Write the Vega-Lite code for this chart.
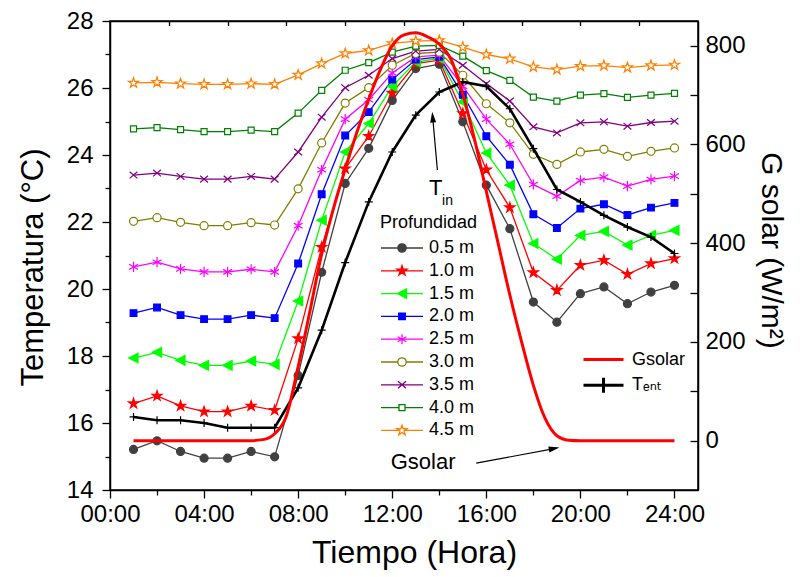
{
  "$schema": "https://vega.github.io/schema/vega-lite/v6.json",
  "width": 588,
  "height": 469,
  "autosize": {"type": "none"},
  "padding": {"left": 110, "top": 21, "right": 109, "bottom": 87},
  "background": "white",
  "config": {
    "font": "Liberation Sans, Arial, DejaVu Sans",
    "view": {"stroke": "black", "strokeWidth": 1.5},
    "axis": {"grid": false, "domainColor": "black", "domainWidth": 1.5, "tickColor": "black", "tickWidth": 1.3, "labelColor": "black", "titleColor": "black", "labelFontSize": 24, "titleFontSize": 32, "titleFontWeight": "normal", "labelFlush": false, "labelOverlap": false},
    "legend": {"titleFontWeight": "normal", "labelColor": "black", "titleColor": "black"}
  },
  "datasets": {
    "depth": [
      {"prof":"0.5 m","hora":1,"temp":15.21},{"prof":"0.5 m","hora":2,"temp":15.47},{"prof":"0.5 m","hora":3,"temp":15.15},{"prof":"0.5 m","hora":4,"temp":14.95},{"prof":"0.5 m","hora":5,"temp":14.95},{"prof":"0.5 m","hora":6,"temp":15.15},{"prof":"0.5 m","hora":7,"temp":14.99},{"prof":"0.5 m","hora":8,"temp":17.42},{"prof":"0.5 m","hora":9,"temp":20.5},{"prof":"0.5 m","hora":10,"temp":23.15},{"prof":"0.5 m","hora":11,"temp":24.2},{"prof":"0.5 m","hora":12,"temp":25.63},{"prof":"0.5 m","hora":13,"temp":26.58},{"prof":"0.5 m","hora":14,"temp":26.71},{"prof":"0.5 m","hora":15,"temp":24.99},{"prof":"0.5 m","hora":16,"temp":23.10},{"prof":"0.5 m","hora":17,"temp":21.80},{"prof":"0.5 m","hora":18,"temp":19.61},{"prof":"0.5 m","hora":19,"temp":19.01},{"prof":"0.5 m","hora":20,"temp":19.86},{"prof":"0.5 m","hora":21,"temp":20.06},{"prof":"0.5 m","hora":22,"temp":19.56},{"prof":"0.5 m","hora":23,"temp":19.91},{"prof":"0.5 m","hora":24,"temp":20.11},
      {"prof":"1.0 m","hora":1,"temp":16.58},{"prof":"1.0 m","hora":2,"temp":16.81},{"prof":"1.0 m","hora":3,"temp":16.51},{"prof":"1.0 m","hora":4,"temp":16.34},{"prof":"1.0 m","hora":5,"temp":16.34},{"prof":"1.0 m","hora":6,"temp":16.51},{"prof":"1.0 m","hora":7,"temp":16.38},{"prof":"1.0 m","hora":8,"temp":18.52},{"prof":"1.0 m","hora":9,"temp":21.25},{"prof":"1.0 m","hora":10,"temp":23.59},{"prof":"1.0 m","hora":11,"temp":24.56},{"prof":"1.0 m","hora":12,"temp":25.85},{"prof":"1.0 m","hora":13,"temp":26.73},{"prof":"1.0 m","hora":14,"temp":26.83},{"prof":"1.0 m","hora":15,"temp":25.24},{"prof":"1.0 m","hora":16,"temp":23.56},{"prof":"1.0 m","hora":17,"temp":22.43},{"prof":"1.0 m","hora":18,"temp":20.49},{"prof":"1.0 m","hora":19,"temp":19.96},{"prof":"1.0 m","hora":20,"temp":20.71},{"prof":"1.0 m","hora":21,"temp":20.86},{"prof":"1.0 m","hora":22,"temp":20.44},{"prof":"1.0 m","hora":23,"temp":20.76},{"prof":"1.0 m","hora":24,"temp":20.91},
      {"prof":"1.5 m","hora":1,"temp":17.94},{"prof":"1.5 m","hora":2,"temp":18.11},{"prof":"1.5 m","hora":3,"temp":17.87},{"prof":"1.5 m","hora":4,"temp":17.72},{"prof":"1.5 m","hora":5,"temp":17.72},{"prof":"1.5 m","hora":6,"temp":17.85},{"prof":"1.5 m","hora":7,"temp":17.75},{"prof":"1.5 m","hora":8,"temp":19.64},{"prof":"1.5 m","hora":9,"temp":22.05},{"prof":"1.5 m","hora":10,"temp":24.09},{"prof":"1.5 m","hora":11,"temp":24.94},{"prof":"1.5 m","hora":12,"temp":26.05},{"prof":"1.5 m","hora":13,"temp":26.78},{"prof":"1.5 m","hora":14,"temp":26.88},{"prof":"1.5 m","hora":15,"temp":25.58},{"prof":"1.5 m","hora":16,"temp":24.06},{"prof":"1.5 m","hora":17,"temp":23.10},{"prof":"1.5 m","hora":18,"temp":21.36},{"prof":"1.5 m","hora":19,"temp":20.89},{"prof":"1.5 m","hora":20,"temp":21.60},{"prof":"1.5 m","hora":21,"temp":21.72},{"prof":"1.5 m","hora":22,"temp":21.31},{"prof":"1.5 m","hora":23,"temp":21.60},{"prof":"1.5 m","hora":24,"temp":21.75},
      {"prof":"2.0 m","hora":1,"temp":19.28},{"prof":"2.0 m","hora":2,"temp":19.45},{"prof":"2.0 m","hora":3,"temp":19.22},{"prof":"2.0 m","hora":4,"temp":19.10},{"prof":"2.0 m","hora":5,"temp":19.10},{"prof":"2.0 m","hora":6,"temp":19.22},{"prof":"2.0 m","hora":7,"temp":19.13},{"prof":"2.0 m","hora":8,"temp":20.76},{"prof":"2.0 m","hora":9,"temp":22.83},{"prof":"2.0 m","hora":10,"temp":24.58},{"prof":"2.0 m","hora":11,"temp":25.28},{"prof":"2.0 m","hora":12,"temp":26.25},{"prof":"2.0 m","hora":13,"temp":26.85},{"prof":"2.0 m","hora":14,"temp":26.93},{"prof":"2.0 m","hora":15,"temp":25.80},{"prof":"2.0 m","hora":16,"temp":24.56},{"prof":"2.0 m","hora":17,"temp":23.71},{"prof":"2.0 m","hora":18,"temp":22.23},{"prof":"2.0 m","hora":19,"temp":21.82},{"prof":"2.0 m","hora":20,"temp":22.40},{"prof":"2.0 m","hora":21,"temp":22.53},{"prof":"2.0 m","hora":22,"temp":22.21},{"prof":"2.0 m","hora":23,"temp":22.43},{"prof":"2.0 m","hora":24,"temp":22.57},
      {"prof":"2.5 m","hora":1,"temp":20.66},{"prof":"2.5 m","hora":2,"temp":20.80},{"prof":"2.5 m","hora":3,"temp":20.60},{"prof":"2.5 m","hora":4,"temp":20.51},{"prof":"2.5 m","hora":5,"temp":20.51},{"prof":"2.5 m","hora":6,"temp":20.59},{"prof":"2.5 m","hora":7,"temp":20.51},{"prof":"2.5 m","hora":8,"temp":21.89},{"prof":"2.5 m","hora":9,"temp":23.56},{"prof":"2.5 m","hora":10,"temp":25.07},{"prof":"2.5 m","hora":11,"temp":25.65},{"prof":"2.5 m","hora":12,"temp":26.45},{"prof":"2.5 m","hora":13,"temp":26.93},{"prof":"2.5 m","hora":14,"temp":26.98},{"prof":"2.5 m","hora":15,"temp":26.05},{"prof":"2.5 m","hora":16,"temp":25.07},{"prof":"2.5 m","hora":17,"temp":24.32},{"prof":"2.5 m","hora":18,"temp":23.12},{"prof":"2.5 m","hora":19,"temp":22.77},{"prof":"2.5 m","hora":20,"temp":23.24},{"prof":"2.5 m","hora":21,"temp":23.34},{"prof":"2.5 m","hora":22,"temp":23.07},{"prof":"2.5 m","hora":23,"temp":23.27},{"prof":"2.5 m","hora":24,"temp":23.37},
      {"prof":"3.0 m","hora":1,"temp":22.02},{"prof":"3.0 m","hora":2,"temp":22.13},{"prof":"3.0 m","hora":3,"temp":21.99},{"prof":"3.0 m","hora":4,"temp":21.89},{"prof":"3.0 m","hora":5,"temp":21.89},{"prof":"3.0 m","hora":6,"temp":21.98},{"prof":"3.0 m","hora":7,"temp":21.91},{"prof":"3.0 m","hora":8,"temp":22.99},{"prof":"3.0 m","hora":9,"temp":24.36},{"prof":"3.0 m","hora":10,"temp":25.55},{"prof":"3.0 m","hora":11,"temp":26.01},{"prof":"3.0 m","hora":12,"temp":26.68},{"prof":"3.0 m","hora":13,"temp":27.03},{"prof":"3.0 m","hora":14,"temp":27.07},{"prof":"3.0 m","hora":15,"temp":26.38},{"prof":"3.0 m","hora":16,"temp":25.53},{"prof":"3.0 m","hora":17,"temp":24.96},{"prof":"3.0 m","hora":18,"temp":24.02},{"prof":"3.0 m","hora":19,"temp":23.72},{"prof":"3.0 m","hora":20,"temp":24.09},{"prof":"3.0 m","hora":21,"temp":24.17},{"prof":"3.0 m","hora":22,"temp":23.96},{"prof":"3.0 m","hora":23,"temp":24.11},{"prof":"3.0 m","hora":24,"temp":24.21},
      {"prof":"3.5 m","hora":1,"temp":23.40},{"prof":"3.5 m","hora":2,"temp":23.46},{"prof":"3.5 m","hora":3,"temp":23.36},{"prof":"3.5 m","hora":4,"temp":23.28},{"prof":"3.5 m","hora":5,"temp":23.28},{"prof":"3.5 m","hora":6,"temp":23.36},{"prof":"3.5 m","hora":7,"temp":23.28},{"prof":"3.5 m","hora":8,"temp":24.09},{"prof":"3.5 m","hora":9,"temp":25.13},{"prof":"3.5 m","hora":10,"temp":26.01},{"prof":"3.5 m","hora":11,"temp":26.38},{"prof":"3.5 m","hora":12,"temp":26.88},{"prof":"3.5 m","hora":13,"temp":27.10},{"prof":"3.5 m","hora":14,"temp":27.15},{"prof":"3.5 m","hora":15,"temp":26.68},{"prof":"3.5 m","hora":16,"temp":26.13},{"prof":"3.5 m","hora":17,"temp":25.61},{"prof":"3.5 m","hora":18,"temp":24.84},{"prof":"3.5 m","hora":19,"temp":24.66},{"prof":"3.5 m","hora":20,"temp":24.96},{"prof":"3.5 m","hora":21,"temp":24.99},{"prof":"3.5 m","hora":22,"temp":24.86},{"prof":"3.5 m","hora":23,"temp":24.97},{"prof":"3.5 m","hora":24,"temp":25.01},
      {"prof":"4.0 m","hora":1,"temp":24.78},{"prof":"4.0 m","hora":2,"temp":24.82},{"prof":"4.0 m","hora":3,"temp":24.76},{"prof":"4.0 m","hora":4,"temp":24.70},{"prof":"4.0 m","hora":5,"temp":24.70},{"prof":"4.0 m","hora":6,"temp":24.74},{"prof":"4.0 m","hora":7,"temp":24.70},{"prof":"4.0 m","hora":8,"temp":25.25},{"prof":"4.0 m","hora":9,"temp":25.93},{"prof":"4.0 m","hora":10,"temp":26.53},{"prof":"4.0 m","hora":11,"temp":26.76},{"prof":"4.0 m","hora":12,"temp":27.07},{"prof":"4.0 m","hora":13,"temp":27.25},{"prof":"4.0 m","hora":14,"temp":27.27},{"prof":"4.0 m","hora":15,"temp":26.95},{"prof":"4.0 m","hora":16,"temp":26.52},{"prof":"4.0 m","hora":17,"temp":26.23},{"prof":"4.0 m","hora":18,"temp":25.73},{"prof":"4.0 m","hora":19,"temp":25.61},{"prof":"4.0 m","hora":20,"temp":25.79},{"prof":"4.0 m","hora":21,"temp":25.83},{"prof":"4.0 m","hora":22,"temp":25.72},{"prof":"4.0 m","hora":23,"temp":25.79},{"prof":"4.0 m","hora":24,"temp":25.84},
      {"prof":"4.5 m","hora":1,"temp":26.15},{"prof":"4.5 m","hora":2,"temp":26.17},{"prof":"4.5 m","hora":3,"temp":26.13},{"prof":"4.5 m","hora":4,"temp":26.11},{"prof":"4.5 m","hora":5,"temp":26.11},{"prof":"4.5 m","hora":6,"temp":26.13},{"prof":"4.5 m","hora":7,"temp":26.11},{"prof":"4.5 m","hora":8,"temp":26.39},{"prof":"4.5 m","hora":9,"temp":26.73},{"prof":"4.5 m","hora":10,"temp":27.03},{"prof":"4.5 m","hora":11,"temp":27.12},{"prof":"4.5 m","hora":12,"temp":27.33},{"prof":"4.5 m","hora":13,"temp":27.40},{"prof":"4.5 m","hora":14,"temp":27.42},{"prof":"4.5 m","hora":15,"temp":27.22},{"prof":"4.5 m","hora":16,"temp":27.00},{"prof":"4.5 m","hora":17,"temp":26.87},{"prof":"4.5 m","hora":18,"temp":26.63},{"prof":"4.5 m","hora":19,"temp":26.55},{"prof":"4.5 m","hora":20,"temp":26.65},{"prof":"4.5 m","hora":21,"temp":26.67},{"prof":"4.5 m","hora":22,"temp":26.61},{"prof":"4.5 m","hora":23,"temp":26.67},{"prof":"4.5 m","hora":24,"temp":26.69}
    ],
    "tent": [
      {"hora":1,"temp":16.18},{"hora":2,"temp":16.08},{"hora":3,"temp":16.08},{"hora":4,"temp":16.00},{"hora":5,"temp":15.86},{"hora":6,"temp":15.86},{"hora":7,"temp":15.86},{"hora":8,"temp":17.05},{"hora":9,"temp":18.77},{"hora":10,"temp":20.79},{"hora":11,"temp":22.60},{"hora":12,"temp":24.09},{"hora":13,"temp":25.19},{"hora":14,"temp":25.88},{"hora":15,"temp":26.18},{"hora":16,"temp":26.05},{"hora":17,"temp":25.38},{"hora":18,"temp":24.19},{"hora":19,"temp":22.97},{"hora":20,"temp":22.60},{"hora":21,"temp":22.20},{"hora":22,"temp":21.85},{"hora":23,"temp":21.55},{"hora":24,"temp":21.06}
    ],
    "gsolar": [
      {"hora":1,"G":0},{"hora":2,"G":0},{"hora":3,"G":0},{"hora":4,"G":0},{"hora":5,"G":0},{"hora":6,"G":0},{"hora":6.5,"G":2},{"hora":7,"G":14},{"hora":7.5,"G":50},{"hora":8,"G":150},{"hora":8.5,"G":262},{"hora":9,"G":378},{"hora":9.5,"G":470},{"hora":10,"G":550},{"hora":10.5,"G":625},{"hora":11,"G":692},{"hora":11.5,"G":752},{"hora":12,"G":800},{"hora":12.5,"G":822},{"hora":13,"G":826},{"hora":13.5,"G":818},{"hora":14,"G":803},{"hora":14.5,"G":772},{"hora":15,"G":702},{"hora":15.5,"G":610},{"hora":16,"G":505},{"hora":16.5,"G":400},{"hora":17,"G":295},{"hora":17.5,"G":200},{"hora":18,"G":112},{"hora":18.5,"G":45},{"hora":19,"G":10},{"hora":19.5,"G":1},{"hora":20,"G":0},{"hora":21,"G":0},{"hora":22,"G":0},{"hora":23,"G":0},{"hora":24,"G":0}
    ]
  },
  "resolve": {"scale": {"x": "independent", "y": "independent"}},
  "layer": [
    {
      "resolve": {"scale": {"shape": "independent", "stroke": "independent", "fill": "independent"}},
      "layer": [
        {
          "data": {"name": "depth"},
          "layer": [
            {
              "mark": {"type": "line", "strokeWidth": 1.3},
              "encoding": {
                "x": {"field": "hora", "type": "quantitative", "scale": {"domain": [0, 25], "nice": false, "zero": false},
                  "axis": {"orient": "bottom", "values": [0, 4, 8, 12, 16, 20, 24], "tickSize": 8, "labelPadding": 4, "labelExpr": "(datum.value < 10 ? '0' : '') + datum.value + ':00'", "title": "Tiempo (Hora)", "titleX": 304, "titleY": 62, "titleAlign": "center", "titleBaseline": "middle", "titleAngle": 0}},
                "y": {"field": "temp", "type": "quantitative", "scale": {"domain": [14, 28], "nice": false, "zero": false},
                  "axis": {"orient": "left", "values": [14, 16, 18, 20, 22, 24, 26, 28], "tickSize": 8, "labelPadding": 9, "title": "Temperatura (°C)", "titleX": -77, "titleY": 246, "titleAlign": "center", "titleBaseline": "middle", "titleAngle": -90, "titleFontSize": 31}},
                "stroke": {"field": "prof", "type": "nominal", "scale": {"domain": ["0.5 m","1.0 m","1.5 m","2.0 m","2.5 m","3.0 m","3.5 m","4.0 m","4.5 m"], "range": ["#404040","#ff0000","#00ff00","#0000ff","#ff00ff","#808000","#800080","#008000","#ff8000"]}, "legend": null}
              }
            },
            {
              "mark": {"type": "point", "size": 144, "strokeWidth": 1.2, "opacity": 1},
              "encoding": {
                "x": {"field": "hora", "type": "quantitative", "scale": {"domain": [0, 25], "nice": false, "zero": false}},
                "y": {"field": "temp", "type": "quantitative", "scale": {"domain": [14, 28], "nice": false, "zero": false}},
                "stroke": {"field": "prof", "type": "nominal", "legend": null},
                "fill": {"field": "prof", "type": "nominal", "scale": {"domain": ["0.5 m","1.0 m","1.5 m","2.0 m","2.5 m","3.0 m","3.5 m","4.0 m","4.5 m"], "range": ["#404040","#ff0000","#00ff00","#0000ff","#ff00ff","#ffffff","#800080","#ffffff","#ffffff"]}, "legend": null},
                "shape": {"field": "prof", "type": "nominal", "scale": {"domain": ["0.5 m","1.0 m","1.5 m","2.0 m","2.5 m","3.0 m","3.5 m","4.0 m","4.5 m"], "range": [
                  "M-0.67,0A0.67,0.67 0 1,0 0.67,0A0.67,0.67 0 1,0 -0.67,0Z",
                  "M0,-0.88L0.198,-0.272L0.837,-0.272L0.32,0.104L0.517,0.712L0,0.336L-0.517,0.712L-0.32,0.104L-0.837,-0.272L-0.198,-0.272Z",
                  "M-0.8,0L0.75,-0.8L0.75,0.8Z",
                  "M-0.56,-0.56H0.56V0.56H-0.56Z",
                  "M0,-0.85V0.85M-0.736,-0.425L0.736,0.425M-0.736,0.425L0.736,-0.425",
                  "M-0.67,0A0.67,0.67 0 1,0 0.67,0A0.67,0.67 0 1,0 -0.67,0Z",
                  "M-0.65,-0.55L0.65,0.55M-0.65,0.55L0.65,-0.55",
                  "M-0.5,-0.5H0.5V0.5H-0.5Z",
                  "M0,-0.88L0.198,-0.272L0.837,-0.272L0.32,0.104L0.517,0.712L0,0.336L-0.517,0.712L-0.32,0.104L-0.837,-0.272L-0.198,-0.272Z"
                ]}, "legend": null}
              }
            }
          ]
        },
        {
          "data": {"values": []},
          "mark": {"type": "point", "opacity": 1, "strokeWidth": 1.3},
          "encoding": {
            "shape": {"field": "prof", "type": "nominal", "scale": {"domain": ["0.5 m","1.0 m","1.5 m","2.0 m","2.5 m","3.0 m","3.5 m","4.0 m","4.5 m"], "range": [
              "M-1,0H0.68M1.52,0H3.2M0.68,0A0.42,0.42 0 1,0 1.52,0A0.42,0.42 0 1,0 0.68,0Z",
              "M-1,0H3.2M1.1,-0.53L1.219,-0.164L1.604,-0.164L1.293,0.063L1.412,0.429L1.1,0.203L0.788,0.429L0.907,0.063L0.596,-0.164L0.981,-0.164Z",
              "M-1,0H3.2M0.65,0L1.55,-0.48L1.55,0.48Z",
              "M-1,0H3.2M0.77,-0.33H1.43V0.33H0.77Z",
              "M-1,0H3.2M1.1,-0.5V0.5M0.667,-0.25L1.533,0.25M0.667,0.25L1.533,-0.25",
              "M-1,0H0.68M1.52,0H3.2M0.68,0A0.42,0.42 0 1,0 1.52,0A0.42,0.42 0 1,0 0.68,0Z",
              "M-1,0H3.2M0.7,-0.35L1.5,0.35M0.7,0.35L1.5,-0.35",
              "M-1,0H0.8M1.4,0H3.2M0.8,-0.3H1.4V0.3H0.8Z",
              "M-1,0H0.82M1.38,0H3.2M1.1,-0.53L1.219,-0.164L1.604,-0.164L1.293,0.063L1.412,0.429L1.1,0.203L0.788,0.429L0.907,0.063L0.596,-0.164L0.981,-0.164Z"
            ]}, "legend": {"orient": "none", "legendX": 270, "legendY": 193, "title": "Profundidad", "titleFontSize": 18, "titlePadding": 5, "labelFontSize": 18, "labelOffset": 27, "symbolSize": 400, "symbolStrokeWidth": 1.3, "rowPadding": 2.8, "padding": 0}},
            "stroke": {"field": "prof", "type": "nominal", "scale": {"domain": ["0.5 m","1.0 m","1.5 m","2.0 m","2.5 m","3.0 m","3.5 m","4.0 m","4.5 m"], "range": ["#404040","#ff0000","#00ff00","#0000ff","#ff00ff","#808000","#800080","#008000","#ff8000"]}, "legend": {"orient": "none", "legendX": 270, "legendY": 193, "title": "Profundidad", "titleFontSize": 18, "titlePadding": 5, "labelFontSize": 18, "labelOffset": 27, "symbolSize": 400, "symbolStrokeWidth": 1.3, "rowPadding": 2.8, "padding": 0}},
            "fill": {"field": "prof", "type": "nominal", "scale": {"domain": ["0.5 m","1.0 m","1.5 m","2.0 m","2.5 m","3.0 m","3.5 m","4.0 m","4.5 m"], "range": ["#404040","#ff0000","#00ff00","#0000ff","#ff00ff","#ffffff","#800080","#ffffff","#ffffff"]}, "legend": {"orient": "none", "legendX": 270, "legendY": 193, "title": "Profundidad", "titleFontSize": 18, "titlePadding": 5, "labelFontSize": 18, "labelOffset": 27, "symbolSize": 400, "symbolStrokeWidth": 1.3, "rowPadding": 2.8, "padding": 0}}
          }
        },
        {
          "data": {"name": "tent"},
          "layer": [
            {
              "mark": {"type": "line", "color": "black", "strokeWidth": 2.6},
              "encoding": {
                "x": {"field": "hora", "type": "quantitative", "scale": {"domain": [0, 25], "nice": false, "zero": false}},
                "y": {"field": "temp", "type": "quantitative", "scale": {"domain": [14, 28], "nice": false, "zero": false}}
              }
            },
            {
              "mark": {"type": "point", "shape": "M-1,0H1M0,-1V1", "size": 64, "color": "black", "strokeWidth": 1.2, "opacity": 1},
              "encoding": {
                "x": {"field": "hora", "type": "quantitative", "scale": {"domain": [0, 25], "nice": false, "zero": false}},
                "y": {"field": "temp", "type": "quantitative", "scale": {"domain": [14, 28], "nice": false, "zero": false}}
              }
            }
          ]
        },
        {
          "data": {"values": []},
          "mark": {"type": "point", "opacity": 1},
          "encoding": {
            "shape": {"field": "serie", "type": "nominal", "scale": {"domain": ["Gsolar", "Tₑₙₜ"], "range": ["M-1,0H3", "M-1,0H3M1,-0.75V0.75"]}, "legend": {"orient": "none", "legendX": 472, "legendY": 327, "title": null, "labelFontSize": 18, "labelOffset": 27, "symbolSize": 400, "symbolStrokeWidth": 3, "rowPadding": 2.7, "padding": 0}},
            "stroke": {"field": "serie", "type": "nominal", "scale": {"domain": ["Gsolar", "Tₑₙₜ"], "range": ["#ff0000", "#000000"]}, "legend": {"orient": "none", "legendX": 472, "legendY": 327, "title": null, "labelFontSize": 18, "labelOffset": 27, "symbolSize": 400, "symbolStrokeWidth": 3, "rowPadding": 2.7, "padding": 0}}
          }
        },
        {
          "data": {"values": [{}]},
          "layer": [
            {"mark": {"type": "rule", "color": "black", "strokeWidth": 1.2},
             "encoding": {"x": {"datum": 13.92, "type": "quantitative"}, "y": {"datum": 23.55, "type": "quantitative"}, "x2": {"datum": 13.71}, "y2": {"datum": 25.2}}},
            {"mark": {"type": "point", "shape": "M0,0L1,3.6L-1,3.6Z", "size": 36, "filled": true, "color": "black", "opacity": 1, "angle": 354.8},
             "encoding": {"x": {"datum": 13.70, "type": "quantitative"}, "y": {"datum": 25.29, "type": "quantitative"}}},
            {"mark": {"type": "text", "text": "T", "fontSize": 22, "align": "center", "baseline": "middle", "color": "black"},
             "encoding": {"x": {"datum": 13.85, "type": "quantitative"}, "y": {"datum": 23.01, "type": "quantitative"}}},
            {"mark": {"type": "text", "text": "in", "fontSize": 14, "align": "left", "baseline": "middle", "color": "black"},
             "encoding": {"x": {"datum": 14.12, "type": "quantitative"}, "y": {"datum": 22.64, "type": "quantitative"}}},
            {"mark": {"type": "text", "text": "Gsolar", "fontSize": 22, "align": "center", "baseline": "middle", "color": "black"},
             "encoding": {"x": {"datum": 13.31, "type": "quantitative"}, "y": {"datum": 14.84, "type": "quantitative"}}},
            {"mark": {"type": "rule", "color": "black", "strokeWidth": 1.2},
             "encoding": {"x": {"datum": 15.57, "type": "quantitative"}, "y": {"datum": 14.80, "type": "quantitative"}, "x2": {"datum": 19.0}, "y2": {"datum": 15.25}}},
            {"mark": {"type": "point", "shape": "M0,0L1,3.6L-1,3.6Z", "size": 36, "filled": true, "color": "black", "opacity": 1, "angle": 79.1},
             "encoding": {"x": {"datum": 19.11, "type": "quantitative"}, "y": {"datum": 15.27, "type": "quantitative"}}}
          ]
        }
      ]
    },
    {
      "data": {"name": "gsolar"},
      "mark": {"type": "line", "color": "#ff0000", "strokeWidth": 3, "interpolate": "monotone"},
      "encoding": {
        "x": {"field": "hora", "type": "quantitative", "scale": {"domain": [0, 25], "nice": false, "zero": false},
          "axis": {"orient": "top", "values": [2.5, 5, 7.5, 10, 12.5, 15, 17.5, 20, 22.5], "labels": false, "tickSize": -4.5, "title": null}},
        "y": {"field": "G", "type": "quantitative", "scale": {"domain": [-100, 850], "nice": false, "zero": false},
          "axis": {"orient": "right", "values": [0, 200, 400, 600, 800], "tickSize": -8, "labelPadding": 15, "title": "G solar (W/m²)", "titleX": 72, "titleY": 229, "titleAlign": "center", "titleBaseline": "middle", "titleAngle": 90, "titleFontSize": 30}}
      }
    },
    {
      "data": {"values": []},
      "mark": "point",
      "encoding": {
        "x": {"field": "hora", "type": "quantitative", "scale": {"domain": [0, 25], "nice": false, "zero": false},
          "axis": {"orient": "bottom", "values": [2, 6, 10, 14, 18, 22], "labels": false, "tickSize": 5, "title": null, "domain": false}},
        "y": {"field": "temp", "type": "quantitative", "scale": {"domain": [14, 28], "nice": false, "zero": false},
          "axis": {"orient": "left", "values": [15, 17, 19, 21, 23, 25, 27], "labels": false, "tickSize": 5, "title": null, "domain": false}}
      }
    },
    {
      "data": {"values": []},
      "mark": "point",
      "encoding": {
        "x": {"field": "hora", "type": "quantitative", "scale": {"domain": [0, 25], "nice": false, "zero": false}, "axis": null},
        "y": {"field": "G", "type": "quantitative", "scale": {"domain": [-100, 850], "nice": false, "zero": false},
          "axis": {"orient": "right", "values": [100, 300, 500, 700], "labels": false, "tickSize": -8, "title": null, "domain": false}}
      }
    }
  ]
}
